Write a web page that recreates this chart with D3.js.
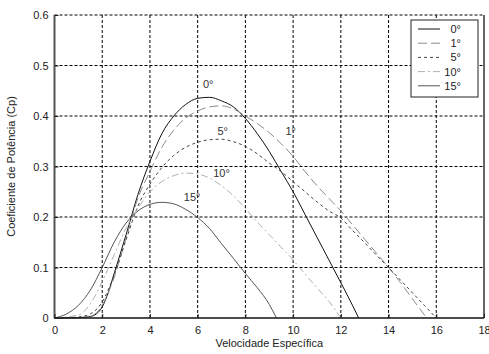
<!DOCTYPE html>
<html>
<head>
<meta charset="utf-8">
<script src="https://cdn.jsdelivr.net/npm/d3@7"></script>
<style>
  body { margin: 0; background: #fff; }
  text { font-family: "Liberation Sans", Arial, sans-serif; }
</style>
</head>
<body>
<div id="chart"></div>
<script>
// tip speed ratio samples for each pitch curve
var lambda0  = [0, 1, 1.5, 1.75, 2, 2.25, 2.5, 2.75, 3, 3.5, 4, 4.5, 5, 5.5, 6, 6.5, 7, 7.5, 8, 8.5, 9, 9.5, 10, 10.5, 11, 11.5, 12, 12.5, 12.75];
var cp0      = [0, 0.0005, 0.003, 0.008, 0.022, 0.05, 0.088, 0.126, 0.165, 0.245, 0.31, 0.365, 0.4, 0.423, 0.435, 0.437, 0.43, 0.418, 0.395, 0.365, 0.33, 0.29, 0.25, 0.205, 0.16, 0.115, 0.07, 0.024, 0];

var lambda1  = [0, 1, 1.5, 1.75, 2, 2.25, 2.5, 2.75, 3, 3.5, 4, 4.5, 5, 5.5, 6, 6.5, 7, 7.5, 8, 8.5, 9, 9.5, 10, 10.5, 11, 11.5, 12, 12.5, 13, 13.5, 14, 14.5, 15, 15.6];
var cp1      = [0, 0.001, 0.004, 0.01, 0.025, 0.05, 0.08, 0.118, 0.158, 0.238, 0.29, 0.338, 0.372, 0.396, 0.41, 0.418, 0.42, 0.414, 0.4, 0.385, 0.367, 0.345, 0.32, 0.29, 0.262, 0.237, 0.212, 0.184, 0.156, 0.128, 0.1, 0.07, 0.038, 0];

var lambda5  = [0, 1, 1.5, 2, 2.5, 3, 3.5, 4, 4.5, 5, 5.5, 6, 6.5, 7, 7.5, 8, 8.5, 9, 9.5, 10, 10.5, 11, 11.5, 12, 12.5, 13, 13.5, 14, 14.5, 15, 15.5, 16];
var cp5      = [0, 0.002, 0.008, 0.032, 0.085, 0.155, 0.222, 0.265, 0.298, 0.322, 0.338, 0.348, 0.353, 0.354, 0.349, 0.34, 0.325, 0.307, 0.29, 0.27, 0.25, 0.23, 0.212, 0.198, 0.173, 0.149, 0.124, 0.1, 0.075, 0.05, 0.025, 0];

var lambda10 = [0, 1, 1.5, 2, 2.5, 3, 3.5, 4, 4.5, 5, 5.5, 6, 6.5, 7, 7.5, 8, 8.5, 9, 9.5, 10, 10.5, 11, 11.5, 12];
var cp10     = [0, 0.006, 0.028, 0.072, 0.125, 0.178, 0.218, 0.25, 0.27, 0.282, 0.287, 0.285, 0.277, 0.262, 0.242, 0.217, 0.19, 0.165, 0.14, 0.115, 0.087, 0.06, 0.033, 0];

var lambda15 = [0, 0.5, 1, 1.5, 2, 2.5, 3, 3.5, 4, 4.5, 5, 5.5, 6, 6.5, 7, 7.5, 8, 8.5, 9, 9.3];
var cp15     = [0, 0.008, 0.025, 0.055, 0.1, 0.15, 0.188, 0.212, 0.225, 0.229, 0.226, 0.215, 0.199, 0.177, 0.147, 0.118, 0.088, 0.06, 0.027, 0];

var seriesNames = ["0°", "1°", "5°", "10°", "15°"];
var xTicks = [0, 2, 4, 6, 8, 10, 12, 14, 16, 18];
var yTicks = [0, 0.1, 0.2, 0.3, 0.4, 0.5, 0.6];
var yTickLabels = ["0", "0.1", "0.2", "0.3", "0.4", "0.5", "0.6"];

// where the angle labels sit on the curves (data coords, baseline)
var labelX = [6.44, 9.9, 7.05, 7.0, 5.77];
var labelY = [0.456, 0.362, 0.362, 0.279, 0.232];

var width = 489, height = 354,
    margin = { top: 15, right: 5, bottom: 36, left: 54.5 };

var styles = [
  { color: "#111", dash: null,      w: 1 },
  { color: "#8a8a8a", dash: "9,4",  w: 1 },
  { color: "#444", dash: "3,3",     w: 1 },
  { color: "#b0b0b0", dash: "7,3,2,3", w: 1 },
  { color: "#555", dash: null,      w: 1 }
];

var series = [
  { name: seriesNames[0], x: lambda0, y: cp0 },
  { name: seriesNames[1], x: lambda1, y: cp1 },
  { name: seriesNames[2], x: lambda5, y: cp5 },
  { name: seriesNames[3], x: lambda10, y: cp10 },
  { name: seriesNames[4], x: lambda15, y: cp15 }
];

var svg = d3.select("#chart").append("svg")
    .attr("width", width)
    .attr("height", height);

var x = d3.scaleLinear().domain([0, 18]).range([margin.left, width - margin.right]);
var y = d3.scaleLinear().domain([0, 0.6]).range([height - margin.bottom, margin.top]);

var g = svg.append("g");

// grid
g.selectAll(".gx").data(xTicks.slice(1, -1)).enter().append("line")
    .attr("x1", d => x(d)).attr("x2", d => x(d))
    .attr("y1", y(0)).attr("y2", y(0.6))
    .attr("stroke", "#000").attr("stroke-dasharray", "3,2").attr("stroke-width", 1);
g.selectAll(".gy").data(yTicks.slice(1, -1)).enter().append("line")
    .attr("x1", x(0)).attr("x2", x(18))
    .attr("y1", d => y(d)).attr("y2", d => y(d))
    .attr("stroke", "#000").attr("stroke-dasharray", "3,2").attr("stroke-width", 1);
g.append("line")
    .attr("x1", x(0)).attr("x2", x(18)).attr("y1", y(0.6)).attr("y2", y(0.6))
    .attr("stroke", "#000").attr("stroke-dasharray", "3,2");

// curves
var line = d3.line()
    .x(d => x(d[0]))
    .y(d => y(d[1]))
    .curve(d3.curveMonotoneX);

series.forEach(function(s, i) {
  var pts = s.x.map((v, j) => [v, s.y[j]]);
  g.append("path")
    .datum(pts)
    .attr("fill", "none")
    .attr("stroke", styles[i].color)
    .attr("stroke-width", styles[i].w)
    .attr("stroke-dasharray", styles[i].dash)
    .attr("d", line);
});

// box
g.append("line").attr("x1", x(0)).attr("x2", x(0)).attr("y1", y(0)).attr("y2", y(0.6))
    .attr("stroke", "#555").attr("stroke-width", 2);
g.append("line").attr("x1", x(18)).attr("x2", x(18)).attr("y1", y(0)).attr("y2", y(0.6))
    .attr("stroke", "#333").attr("stroke-width", 1.5);
g.append("line").attr("x1", x(0)).attr("x2", x(18)).attr("y1", y(0)).attr("y2", y(0))
    .attr("stroke", "#111").attr("stroke-width", 1.5);

// axes (ticks inward)
var xAxis = d3.axisBottom(x).tickValues(xTicks).tickSize(-4).tickPadding(8).tickFormat(d3.format("d"));
var yAxis = d3.axisLeft(y).tickValues(yTicks).tickSize(-4).tickPadding(6).tickFormat((d, i) => yTickLabels[i]);

var gx = svg.append("g").attr("transform", "translate(0," + y(0) + ")").call(xAxis);
var gy = svg.append("g").attr("transform", "translate(" + x(0) + ",0)").call(yAxis);
[gx, gy].forEach(function(a) {
  a.select(".domain").remove();
  a.selectAll(".tick line").attr("stroke", "#222");
  a.selectAll(".tick text").attr("font-size", "11px").attr("fill", "#222")
    .attr("font-family", "Liberation Sans, Arial, sans-serif");
});

// axis titles
svg.append("text")
    .attr("x", (x(0) + x(18)) / 2)
    .attr("y", 347)
    .attr("text-anchor", "middle")
    .attr("font-size", "11px").attr("fill", "#222")
    .text("Velocidade Específica");
svg.append("text")
    .attr("transform", "translate(15," + y(0.3) + ") rotate(-90)")
    .attr("text-anchor", "middle")
    .attr("font-size", "11px").attr("fill", "#222")
    .text("Coeficiente de Potência (Cp)");

// curve labels
g.selectAll(".lbl").data(seriesNames).enter().append("text")
    .attr("x", (d, i) => x(labelX[i]))
    .attr("y", (d, i) => y(labelY[i]))
    .attr("text-anchor", "middle")
    .attr("font-size", "11px").attr("fill", "#333")
    .text(d => d);

// legend
var lg = svg.append("g");
lg.append("rect")
    .attr("x", 411).attr("y", 20).attr("width", 67).attr("height", 77)
    .attr("fill", "#fff").attr("stroke", "#222");
seriesNames.forEach(function(n, i) {
  var yy = 29 + i * 14.2;
  lg.append("line")
    .attr("x1", 418).attr("x2", 440).attr("y1", yy).attr("y2", yy)
    .attr("stroke", styles[i].color)
    .attr("stroke-dasharray", styles[i].dash);
  lg.append("text")
    .attr("x", 461).attr("y", yy + 4)
    .attr("text-anchor", "end")
    .attr("font-size", "11px").attr("fill", "#222")
    .text(n);
});
</script>
</body>
</html>
